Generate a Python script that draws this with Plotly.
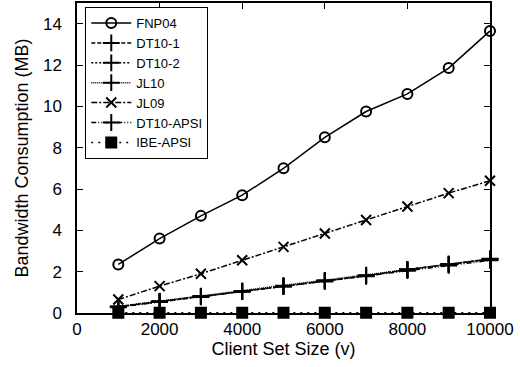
import plotly.graph_objects as go

client_sizes = [1000, 2000, 3000, 4000, 5000, 6000, 7000, 8000, 9000, 10000]
fnp04 = [2.35, 3.6, 4.7, 5.7, 7.0, 8.5, 9.75, 10.6, 11.85, 13.65]
dt10_1 = [0.3, 0.55, 0.8, 1.05, 1.3, 1.55, 1.8, 2.1, 2.35, 2.6]
dt10_2 = [0.3, 0.55, 0.8, 1.05, 1.3, 1.55, 1.8, 2.1, 2.35, 2.6]
jl10 = [0.32, 0.57, 0.82, 1.07, 1.32, 1.58, 1.83, 2.1, 2.37, 2.62]
jl09 = [0.65, 1.3, 1.9, 2.55, 3.2, 3.85, 4.5, 5.15, 5.8, 6.4]
dt10_apsi = [0.28, 0.53, 0.78, 1.03, 1.28, 1.53, 1.78, 2.05, 2.3, 2.55]
ibe_apsi = [0.01, 0.01, 0.01, 0.01, 0.01, 0.01, 0.01, 0.01, 0.01, 0.01]

series = [
    ("FNP04", fnp04, "solid", "circle-open", 10),
    ("DT10-1", dt10_1, "4px,2px", "cross-thin-open", 12),
    ("DT10-2", dt10_2, "2px,2px", "cross-thin-open", 12),
    ("JL10", jl10, "1px,1px", "cross-thin-open", 12),
    ("JL09", jl09, "6px,2px,2px,2px", "x-thin-open", 10),
    ("DT10-APSI", dt10_apsi, "5px,2px,1px,2px,1px,2px", "cross-thin-open", 12),
    ("IBE-APSI", ibe_apsi, "2px,5px", "square", 10),
]

FONT = "Liberation Sans, Arial, sans-serif"

fig = go.Figure()
for name, vals, dash, sym, size in series:
    fig.add_trace(go.Scatter(
        x=client_sizes, y=vals, name=name, mode="lines+markers",
        line=dict(color="black", width=1.5, dash=dash),
        marker=dict(symbol=sym, size=size, color="black",
                    line=dict(color="black", width=2)),
        cliponaxis=False,
    ))

axis_common = dict(
    showgrid=False, zeroline=False, showline=True, linecolor="black",
    linewidth=1.5, mirror="ticks", ticks="inside", ticklen=6,
    tickcolor="black", tickwidth=1, automargin=False,
    tickfont=dict(family=FONT, size=17, color="black"),
)

fig.update_xaxes(range=[0, 10000], dtick=2000, tick0=0, tickformat="d",
                 title=dict(text="Client Set Size (v)", standoff=2,
                            font=dict(family=FONT, size=18, color="black")),
                 **axis_common)
fig.update_yaxes(range=[0, 15], dtick=2, tick0=0, tickformat="d",
                 ticklabelstandoff=10,
                 title=dict(text="Bandwidth Consumption (MB)", standoff=10,
                            font=dict(family=FONT, size=18, color="black")),
                 **axis_common)

fig.update_layout(
    width=520, height=367,
    margin=dict(l=77, r=30, t=3, b=54),
    plot_bgcolor="white", paper_bgcolor="white",
    showlegend=True,
    legend=dict(x=0.02, y=0.987, xanchor="left", yanchor="top",
                bordercolor="black", borderwidth=1, bgcolor="white",
                font=dict(family=FONT, size=13, color="black"),
                tracegroupgap=0, itemwidth=40),
)

fig.write_html(
    "out.html",
    config={"displayModeBar": False},
    post_script="document.body.style.margin='0';document.body.style.overflow='hidden';",
)
